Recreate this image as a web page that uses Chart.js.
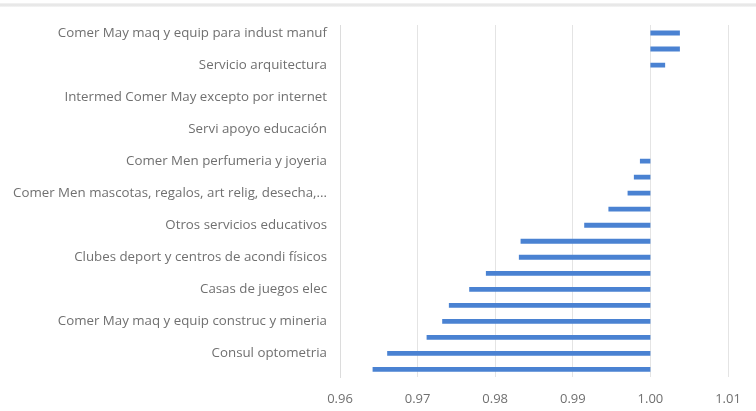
<!DOCTYPE html>
<html>
<head>
<meta charset="utf-8">
<script src="https://cdn.jsdelivr.net/npm/chart.js@4"></script>
<style>
  html, body { margin: 0; padding: 0; background: #ffffff; }
  body { width: 756px; height: 411px; overflow: hidden; position: relative; }
  #topband { position: absolute; left: 0; top: 3px; width: 756px; height: 4px;
    background: linear-gradient(#f4f4f4, #e4e4e4, #f6f6f6); }
  #wrap { position: absolute; left: 0; top: 0; width: 756px; height: 421px; }
</style>
</head>
<body>
<div id="topband"></div>
<div id="wrap"><canvas id="c" width="756" height="421"></canvas></div>
<script>
// Categories (only every other label is legible in the reference; the rest are blank)
const categories = [
  "Comer May maq y equip para indust manuf", "",
  "Servicio arquitectura", "",
  "Intermed Comer May excepto por internet", "",
  "Servi apoyo educación", "",
  "Comer Men perfumeria y joyeria", "",
  "Comer Men mascotas, regalos, art relig, desecha,...", "",
  "Otros servicios educativos", "",
  "Clubes deport y centros de acondi físicos", "",
  "Casas de juegos elec", "",
  "Comer May maq y equip construc y mineria", "",
  "Consul optometria", ""
];
const values = [
  1.0038, 1.0038, 1.0019, 1.0000, 1.0000, 1.0000, 1.0000, 1.0000,
  0.99865, 0.99787, 0.99706, 0.99459, 0.99147, 0.98327, 0.98305,
  0.97880, 0.97665, 0.97403, 0.97317, 0.97116, 0.96608, 0.96420
];
const baseValue = 1.0;
const xTicks = [0.96, 0.97, 0.98, 0.99, 1.00, 1.01];

const textColor = '#707070';
const fontFamily = '"Open Sans", "DejaVu Sans", sans-serif';

new Chart(document.getElementById('c'), {
  type: 'bar',
  data: {
    labels: categories,
    datasets: [{
      data: values.map(v => [baseValue, v]),
      backgroundColor: '#4a82d2',
      borderWidth: 0,
      borderSkipped: false,
      barPercentage: 0.6,
      categoryPercentage: 0.5
    }]
  },
  options: {
    indexAxis: 'y',
    responsive: false,
    animation: false,
    devicePixelRatio: 1,
    layout: { padding: { top: 25, right: 28, bottom: 0, left: 0 } },
    plugins: { legend: { display: false }, tooltip: { enabled: false } },
    scales: {
      x: {
        type: 'linear',
        min: xTicks[0],
        max: xTicks[xTicks.length - 1],
        afterBuildTicks: (axis) => { axis.ticks = xTicks.map(v => ({ value: v })); },
        ticks: {
          color: textColor,
          font: { family: fontFamily, size: 13 },
          padding: 14,
          callback: (v) => Number(v).toFixed(2)
        },
        grid: { color: '#e4e4e4', drawTicks: false, lineWidth: 1 },
        border: { display: false }
      },
      y: {
        afterFit: (axis) => { axis.width = 340; },
        ticks: {
          color: textColor,
          font: { family: fontFamily, size: 13.3 },
          padding: 13,
          autoSkip: false
        },
        grid: { display: false, drawTicks: false },
        border: { display: true, color: '#dcdcdc' }
      }
    }
  }
});
</script>
</body>
</html>
